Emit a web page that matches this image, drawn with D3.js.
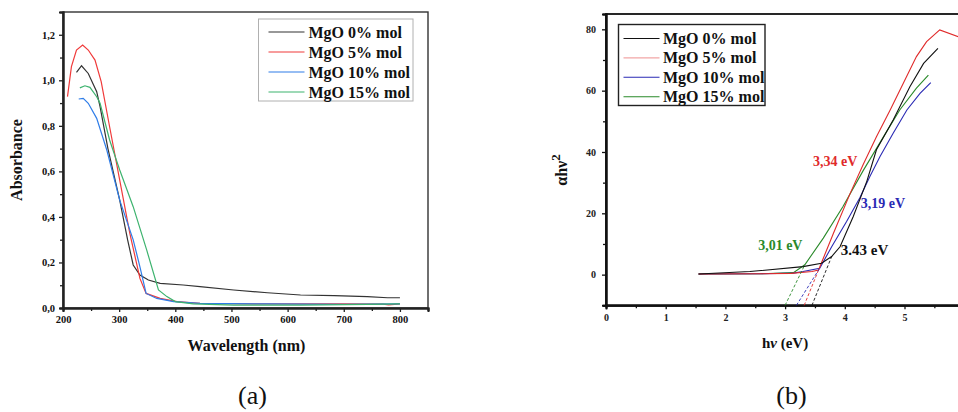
<!DOCTYPE html>
<html><head><meta charset="utf-8">
<script src="https://cdn.jsdelivr.net/npm/d3@7"></script>
<style>
body{margin:0;background:#fff;}
svg{display:block;font-family:"Liberation Serif","Times New Roman",serif;}
</style></head>
<body><svg id="c" width="958" height="412"></svg>
<script>
// ---------- Panel (a) data: UV-Vis absorbance ----------
const seriesNames = ["MgO 0% mol","MgO 5% mol","MgO 10% mol","MgO 15% mol"];
const colorsA = ["#333333","#f03a3a","#2f7de8","#3db36e"];
const wl0 = [224,233,245,260,266,280,301,315,325,337,352,373,414,444,504,564,623,683,742,778,800];
const ab0 = [1.035,1.064,1.03,0.95,0.884,0.70,0.474,0.30,0.189,0.145,0.123,0.108,0.101,0.094,0.079,0.067,0.057,0.054,0.050,0.045,0.045];
const wl5 = [208,215,224,235,245,257,268,283,301,319,337,348,373,403,444,564,700,770,780,800];
const ab5 = [0.928,1.06,1.133,1.155,1.133,1.089,0.994,0.796,0.562,0.328,0.13,0.064,0.042,0.028,0.020,0.018,0.018,0.017,0.014,0.018];
const wl10 = [228,236,245,260,278,301,325,337,348,367,397,444,564,700,800];
const ab10 = [0.918,0.921,0.899,0.833,0.694,0.474,0.299,0.181,0.064,0.042,0.028,0.020,0.018,0.016,0.018];
const wl15 = [230,239,248,260,266,283,301,325,349,370,385,400,432,504,623,742,800];
const ab15 = [0.967,0.976,0.969,0.928,0.899,0.738,0.606,0.445,0.255,0.079,0.05,0.028,0.018,0.013,0.013,0.016,0.018];
const xTicksA = [200,300,400,500,600,700,800];
const xMinorA = [250,350,450,550,650,750,850];
const yTicksA = [0,0.2,0.4,0.6,0.8,1.0,1.2];
const yTickLabelsA = ["0,0","0,2","0,4","0,6","0,8","1,0","1,2"];
const yMinorA = [0.1,0.3,0.5,0.7,0.9,1.1];

// ---------- Panel (b) data: Tauc plot ----------
const colorsB = ["#111111","#e02a2a","#2a2ab4","#2a8a2a"];
const legendColorsB = ["#111111","#f2a6a6","#2a2ab4","#2a8a2a"];
const e0 = [1.55,2.41,3.30,3.61,3.78,3.92,4.14,4.37,4.53,4.81,5.09,5.32,5.56];
const t0 = [0.2,1.0,2.6,3.7,5.9,9.1,18.9,30.5,40.7,50.4,61.3,68.9,73.8];
const e5 = [1.55,2.6,3.1,3.45,3.56,3.81,4.09,4.31,4.53,4.76,4.98,5.20,5.37,5.59,5.9,6.0];
const t5 = [0.2,0.3,0.4,1.0,1.5,13.5,26.5,36.0,45.0,53.7,62.4,71.1,76.0,79.8,77.6,77.0];
const e10 = [1.55,2.6,3.14,3.30,3.58,3.78,4.03,4.25,4.42,4.59,4.81,5.04,5.26,5.44];
const t10 = [0.2,0.3,0.5,1.0,2.1,9.1,17.3,25.0,32.0,38.5,46.1,53.7,59.1,62.6];
const e15 = [1.55,2.6,3.14,3.33,3.64,3.97,4.31,4.65,4.92,5.20,5.40];
const t15 = [0.2,0.3,0.65,3.2,11.9,22.2,34.0,45.0,53.7,60.8,65.1];
// tangent (dashed) lines: from bottom frame to join point on curve
const tanX0 = [3.45,3.32,3.19,3.00];
const tanY0 = [-10,-10,-10,-10];
const tanX1 = [3.78,3.56,3.58,3.33];
const tanY1 = [5.9,1.5,2.1,3.2];
const gapLabels = ["3.43 eV","3,34 eV","3,19 eV","3,01 eV"];
const gapLabelX = [4.33,3.84,4.64,2.92];
const gapLabelY = [8.0,36.8,23.3,9.4];
const xTicksB = [0,1,2,3,4,5];
const xMinorB = [0.5,1.5,2.5,3.5,4.5,5.5];
const yTicksB = [0,20,40,60,80];
const yMinorB = [-10,10,30,50,70];

const svg = d3.select("#c");

// ================= Panel (a) =================
const xA = d3.scaleLinear().domain([200,850]).range([63,428]);
const yA = d3.scaleLinear().domain([0,1.3]).range([308,12]);
const gA = svg.append("g");
gA.append("rect").attr("x",xA(200)).attr("y",yA(1.3)).attr("width",xA(850)-xA(200)).attr("height",yA(0)-yA(1.3))
  .attr("fill","none").attr("stroke","#333").attr("stroke-width",1.4);
gA.append("g").attr("transform",`translate(0,${yA(0)})`)
  .call(d3.axisBottom(xA).tickValues(xTicksA).tickSize(4).tickPadding(4).tickFormat(d3.format("d")));
gA.append("g").attr("transform",`translate(0,${yA(0)})`)
  .call(d3.axisBottom(xA).tickValues(xMinorA).tickSize(3).tickFormat(""));
gA.append("g").attr("transform",`translate(${xA(200)},0)`)
  .call(d3.axisLeft(yA).tickValues(yTicksA).tickSize(4).tickPadding(4).tickFormat((d,i)=>yTickLabelsA[i]));
gA.append("g").attr("transform",`translate(${xA(200)},0)`)
  .call(d3.axisLeft(yA).tickValues(yMinorA).tickSize(3).tickFormat(""));
gA.selectAll(".domain").attr("stroke","#222").attr("stroke-width",2);
gA.selectAll(".tick line").attr("stroke","#222").attr("stroke-width",1.3);
gA.selectAll(".tick text").attr("font-family","Liberation Serif").attr("font-weight","bold").attr("font-size",10.5).attr("fill","#111");

const lineA = d3.line().x(d=>xA(d[0])).y(d=>yA(d[1]));
const dataA = [[wl0,ab0],[wl5,ab5],[wl10,ab10],[wl15,ab15]];
dataA.forEach((s,i)=>{
  gA.append("path").datum(d3.zip(s[0],s[1])).attr("d",lineA).attr("fill","none")
    .attr("stroke",colorsA[i]).attr("stroke-width",1.2);
});
const legA = gA.append("g").attr("transform","translate(258.5,19)");
legA.append("rect").attr("width",154.5).attr("height",82).attr("fill","#fff").attr("stroke","#b0b0b0").attr("stroke-width",1);
seriesNames.forEach((n,i)=>{
  const y = 13 + i*20;
  legA.append("line").attr("x1",10).attr("x2",46).attr("y1",y).attr("y2",y).attr("stroke",colorsA[i]).attr("stroke-width",1.2);
  legA.append("text").attr("x",50).attr("y",y+5.5).attr("font-size",16).attr("font-weight","bold").attr("fill","#111").text(n);
});
gA.append("text").attr("transform",`translate(22,${(yA(0)+yA(1.3))/2}) rotate(-90)`).attr("text-anchor","middle")
  .attr("font-size",16).attr("font-weight","bold").attr("fill","#111").text("Absorbance");
gA.append("text").attr("x",246.5).attr("y",350.5).attr("text-anchor","middle")
  .attr("font-size",16).attr("font-weight","bold").attr("fill","#111").text("Wavelength (nm)");
svg.append("text").attr("x",252.5).attr("y",404).attr("text-anchor","middle").attr("font-size",26).attr("fill","#111").text("(a)");

// ================= Panel (b) =================
const xB = d3.scaleLinear().domain([0,6]).range([606,964.2]);
const yB = d3.scaleLinear().domain([-10,85]).range([305.3,14]);
const gB = svg.append("g");
gB.append("rect").attr("x",xB(0)).attr("y",yB(85)).attr("width",xB(6)-xB(0)).attr("height",yB(-10)-yB(85))
  .attr("fill","none").attr("stroke","#111").attr("stroke-width",1.8);
gB.append("g").attr("transform",`translate(0,${yB(-10)})`)
  .call(d3.axisBottom(xB).tickValues(xTicksB).tickSize(4).tickPadding(5).tickFormat(d3.format("d")));
gB.append("g").attr("transform",`translate(0,${yB(-10)})`)
  .call(d3.axisBottom(xB).tickValues(xMinorB).tickSize(3).tickFormat(""));
gB.append("g").attr("transform",`translate(${xB(0)},0)`)
  .call(d3.axisLeft(yB).tickValues(yTicksB).tickSize(4).tickPadding(6).tickFormat(d3.format("d")));
gB.append("g").attr("transform",`translate(${xB(0)},0)`)
  .call(d3.axisLeft(yB).tickValues(yMinorB).tickSize(3).tickFormat(""));
gB.selectAll(".domain").attr("stroke","#111").attr("stroke-width",2);
gB.selectAll(".tick line").attr("stroke","#111").attr("stroke-width",1.3);
gB.selectAll(".tick text").attr("font-family","Liberation Serif").attr("font-weight","bold").attr("font-size",10).attr("fill","#222");

const lineB = d3.line().x(d=>xB(d[0])).y(d=>yB(d[1]));
const dataB = [[e0,t0],[e5,t5],[e10,t10],[e15,t15]];
const plotB = gB.append("g");
[3,2,1,0].forEach(i=>{
  const s = dataB[i];
  plotB.append("path").datum(d3.zip(s[0],s[1])).attr("d",lineB).attr("fill","none")
    .attr("stroke",colorsB[i]).attr("stroke-width",1.1);
});
tanX0.forEach((x0,i)=>{
  plotB.append("line").attr("x1",xB(x0)).attr("y1",yB(tanY0[i])).attr("x2",xB(tanX1[i])).attr("y2",yB(tanY1[i]))
    .attr("stroke",colorsB[i]).attr("stroke-width",0.9).attr("stroke-dasharray","3,2");
});
gapLabels.forEach((t,i)=>{
  gB.append("text").attr("x",xB(gapLabelX[i])).attr("y",yB(gapLabelY[i])).attr("text-anchor","middle")
    .attr("dominant-baseline","central").attr("font-size",i===0?15:14).attr("font-weight","bold")
    .attr("fill",colorsB[i]).text(t);
});
const legB = gB.append("g").attr("transform","translate(618.5,24.5)");
legB.append("rect").attr("width",146.5).attr("height",81).attr("fill","#fff").attr("stroke","#222").attr("stroke-width",1.4);
seriesNames.forEach((n,i)=>{
  const y = 14 + i*19.4;
  legB.append("line").attr("x1",5).attr("x2",41).attr("y1",y).attr("y2",y).attr("stroke",legendColorsB[i]).attr("stroke-width",1.1);
  legB.append("text").attr("x",44.5).attr("y",y+5.5).attr("font-size",16).attr("font-weight","bold").attr("fill","#111").text(n);
});
const yl = gB.append("text").attr("transform",`translate(567,170) rotate(-90)`).attr("text-anchor","middle")
  .attr("font-size",16).attr("font-weight","bold").attr("fill","#111");
yl.append("tspan").text("αhν");
yl.append("tspan").attr("font-size",13).attr("dy",-7).text("2");
const xl = gB.append("text").attr("x",785).attr("y",348).attr("text-anchor","middle")
  .attr("font-size",15).attr("font-weight","bold").attr("fill","#111");
xl.append("tspan").text("h");
xl.append("tspan").attr("font-style","italic").text("ν");
xl.append("tspan").text(" (eV)");
svg.append("text").attr("x",791.5).attr("y",404).attr("text-anchor","middle").attr("font-size",26).attr("fill","#111").text("(b)");
</script></body></html>
